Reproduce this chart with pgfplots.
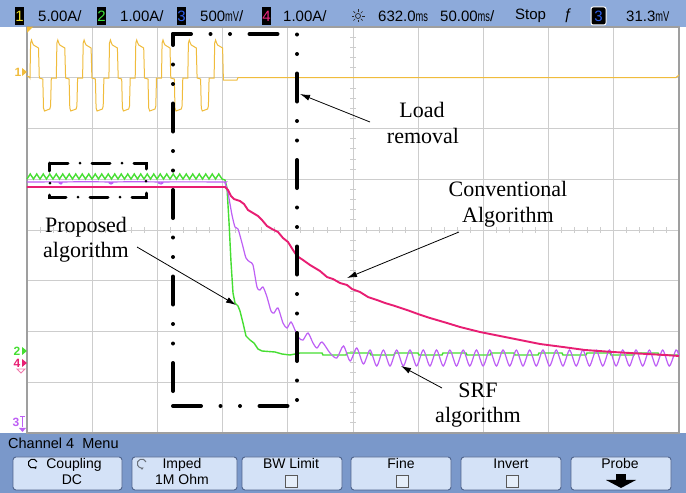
\documentclass[border=0pt]{standalone}
\usepackage{pgfplots}
\pgfplotsset{compat=1.18}
\usepackage{graphicx}
\usepackage{fontspec}
\setmainfont{Liberation Serif}
\newfontfamily\osc{Liberation Sans}
\usetikzlibrary{arrows.meta}
\definecolor{barblue}{RGB}{141,170,218}
\definecolor{menublue}{RGB}{122,152,202}
\definecolor{btnfill}{RGB}{212,226,247}
\definecolor{btnedge}{RGB}{80,100,140}
\definecolor{chone}{RGB}{240,188,60}
\definecolor{chtwo}{RGB}{70,222,50}
\definecolor{chthree}{RGB}{190,95,245}
\definecolor{chfour}{RGB}{232,30,115}
\definecolor{gridc}{RGB}{205,205,205}
\definecolor{dgone}{RGB}{235,220,40}
\definecolor{dgtwo}{RGB}{60,225,60}
\definecolor{dgthree}{RGB}{45,95,235}
\definecolor{dgfour}{RGB}{235,40,130}
\newcommand\stat{\osc\fontsize{15}{17}\selectfont}
\newcommand\un[1]{\scalebox{0.62}[0.95]{#1}}
\newcommand\ann{\fontsize{22}{26}\selectfont}
\begin{document}
\begin{tikzpicture}[x=1pt,y=1pt]
\useasboundingbox (0,0) rectangle (686,493);
\fill[white] (0,0) rectangle (686,493);
\fill[barblue] (0,466) rectangle (686,493);
\fill[menublue] (0,0) rectangle (686,60);
\begin{axis}[at={(27pt,60pt)},anchor=south west,width=652pt,height=406pt,scale only axis,
 xmin=27,xmax=679,ymin=27,ymax=433,y dir=reverse,
 xtick={92.2,157.4,222.6,287.8,353,418.2,483.4,548.6,613.8},
 ytick={77.75,128.5,179.25,230,280.75,331.5,382.25},
 xticklabels={},yticklabels={},major tick length=0pt,
 grid=major, grid style={gridc,line width=0.9pt},
 axis line style={gray!75,line width=1.2pt},
 clip=false]
% minor ticks on centre lines
\pgfplotsinvokeforeach{1,...,39}{\draw[gridc,line width=0.8pt] (axis cs:350,{27+10.15*#1}) -- (axis cs:356,{27+10.15*#1});}
\pgfplotsinvokeforeach{1,...,49}{\draw[gridc,line width=0.8pt] (axis cs:{27+13.04*#1},227) -- (axis cs:{27+13.04*#1},233);}
% channel 1
\addplot[chone, line width=1pt] coordinates {
(27,76)(29.5,77)
(30,78)(30.6,43)(31.5,40)(32.5,43)(33.5,45)(38.5,48)(39.3,78)(42.8,79)(43.5,108)(44.5,111)(49.8,109)(50.6,106)(51.3,78)
(56.3,78)(56.9,43)(57.8,40)(58.8,43)(59.8,45)(64.8,48)(65.6,78)(69.1,79)(69.8,108)(70.8,111)(76.1,109)(76.9,106)(77.6,78)
(82.6,78)(83.2,43)(84.1,40)(85.1,43)(86.1,45)(91.1,48)(91.9,78)(95.4,79)(96.1,108)(97.1,111)(102.4,109)(103.2,106)(103.9,78)
(108.9,78)(109.5,43)(110.4,40)(111.4,43)(112.4,45)(117.4,48)(118.2,78)(121.7,79)(122.4,108)(123.4,111)(128.7,109)(129.5,106)(130.2,78)
(135.2,78)(135.8,43)(136.7,40)(137.7,43)(138.7,45)(143.7,48)(144.5,78)(148,79)(148.7,108)(149.7,111)(155,109)(155.8,106)(156.5,78)
(161.5,78)(162.1,43)(163,40)(164,43)(165,45)(170,48)(170.8,78)(174.3,79)(175,108)(176,111)(181.3,109)(182.1,106)(182.8,78)
(187.8,78)(188.4,43)(189.3,40)(190.3,43)(191.3,45)(196.3,48)(197.1,78)(200.6,79)(201.3,108)(202.3,111)(207.6,109)(208.4,106)(209.1,78)
(214.1,78)(214.7,43)(215.6,40)(216.6,43)(217.6,45)(222.6,48)(223.4,80)(237,80)(238,77.5)(676,77.5)(679,75)
};
% channel 2 (proposed)
\addplot[chtwo, line width=1.4pt] coordinates {
(27,179)(30.25,174)(33.5,179)(36.75,174)(40,179)(43.25,174)(46.5,179)(49.75,174)(53,179)(56.25,174)(59.5,179)(62.75,174)(66,179)(69.25,174)(72.5,179)(75.75,174)(79,179)(82.25,174)(85.5,179)(88.75,174)(92,179)(95.25,174)(98.5,179)(101.75,174)(105,179)(108.25,174)(111.5,179)(114.75,174)(118,179)(121.25,174)(124.5,179)(127.75,174)(131,179)(134.25,174)(137.5,179)(140.75,174)(144,179)(147.25,174)(150.5,179)(153.75,174)(157,179)(160.25,174)(163.5,179)(166.75,174)(170,179)(173.25,174)(176.5,179)(179.75,174)(183,179)(186.25,174)(189.5,179)(192.75,174)(196,179)(199.25,174)(202.5,179)(205.75,174)(209,179)(212.25,174)(215.5,179)(218.75,174)(222,179)
(225,180)(227,188)(229,222)(231,262)(233,293)(235,303)(238,306)(240,311)(243,323)(246,336)(250,340)(254,343)(258,349)(262,351)(275,352)(282,354)(290,355)(300,353)
(322,353)(323,355)(346,355)(347,353)(370,353)(371,355)(394,355)(395,353)(418,353)(419,355)(442,355)(443,353)(466,353)(467,355)(490,355)(491,353)(514,353)(515,355)(538,355)(539,353)(562,353)(563,355)(586,355)(587,353)(610,353)(611,355)(634,355)(635,353)(658,353)(659,355)(679,355)
};
% channel 3 (SRF)
\addplot[chthree, line width=1.2pt, smooth, tension=0.45] coordinates {
(27,182)(60,182)(61,184)(62,182)(110,182)(111,184)(112,182)(160,182)(161,184)(162,182)(222,182)(225,183)(228,193)(232,215)(235,227)(238,229)(242,243)(246,258)(250,262)(253,265)(257,287)(260,290)(263,287)(267,297)(271,311)(274,313)(278,308)(283,323)(287,328)(291,322)(295,330)(299,338)(303,340)(308,333)(313,343)(317,348)(322,342)(330,353)
(336.8,358)(343.45,346)(350.1,361)(356.75,348)(363.4,364)(370.05,350)(376.7,366)(383.35,350)(390,366)(396.65,350)(403.3,366)(409.95,350)(416.6,366)(423.25,350)(429.9,366)(436.55,350)(443.2,366)(449.85,350)(456.5,366)(463.15,350)(469.8,366)(476.45,350)(483.1,366)(489.75,350)(496.4,366)(503.05,350)(509.7,366)(516.35,350)(523,366)(529.65,350)(536.3,366)(542.95,350)(549.6,366)(556.25,350)(562.9,366)(569.55,350)(576.2,366)(582.85,350)(589.5,366)(596.15,350)(602.8,366)(609.45,350)(616.1,366)(622.75,350)(629.4,366)(636.05,350)(642.7,366)(649.35,350)(656,366)(662.65,350)(669.3,366)(675.95,350)(679,356)
};
% channel 4 (conventional)
\addplot[chfour, line width=1.9pt] coordinates {
(27,187)(222,187)(225,187)(228,190)(231,196)(234,199)(240,201)(244,204)(248,210)(253,213)(258,216)(262,220)(267,226)(272,229)(278,232)(283,238)(288,242)(293,250)(297,256)(303,260)(310,265)(315,268)(320,271)(327,277)(333,279)(340,283)(347,285)(352,289)(360,292)(368,297)(377,300)(385,303)(395,306)(407,310)(418,314)(430,318)(447,323)(460,327)(480,332)(500,336)(520,340)(540,344)(563,347)(585,350)(613,352)(630,353)(647,354)(665,355)(679,356)
};
% dash-dot rectangles
\begin{scope}[line width=4pt,line cap=round,black]
\draw[dash pattern=on 28pt off 19.5pt on 0pt off 19.5pt on 0pt off 19.5pt,dash phase=10pt] (axis cs:173,34) -- (axis cs:297,34);
\draw[dash pattern=on 28pt off 19.5pt on 0pt off 19.5pt on 0pt off 19.5pt,dash phase=17pt] (axis cs:173,34) -- (axis cs:173,406);
\draw[dash pattern=on 28pt off 19.5pt on 0pt off 19.5pt on 0pt off 19.5pt,dash phase=47pt] (axis cs:297,34) -- (axis cs:297,406);
\draw[dash pattern=on 28pt off 19.5pt on 0pt off 19.5pt on 0pt off 19.5pt,dash phase=0pt] (axis cs:173,406) -- (axis cs:297,406);
\end{scope}
\begin{scope}[line width=3pt,line cap=round,black]
\draw[dash pattern=on 18pt off 12pt on 0pt off 12pt] (axis cs:50,163) -- (axis cs:146,163) -- (axis cs:146,197) -- (axis cs:50,197) -- cycle;
\end{scope}
% annotations
\draw[line width=0.8pt,-{Latex[length=10pt,width=6pt]}] (axis cs:370,122) -- (axis cs:300,94);
\draw[line width=0.8pt,-{Latex[length=10pt,width=6pt]}] (axis cs:459,232) -- (axis cs:347,278);
\draw[line width=0.8pt,-{Latex[length=10pt,width=6pt]}] (axis cs:137,247) -- (axis cs:236,305);
\draw[line width=0.8pt,-{Latex[length=10pt,width=6pt]}] (axis cs:442,388) -- (axis cs:401,366);
\node[anchor=base,inner sep=0pt,font=\ann] at (axis cs:422,117) {Load};
\node[anchor=base,inner sep=0pt,font=\ann] at (axis cs:423,143) {removal};
\node[anchor=base,inner sep=0pt,font=\ann] at (axis cs:508,196) {Conventional};
\node[anchor=base,inner sep=0pt,font=\ann] at (axis cs:508,222) {Algorithm};
\node[anchor=base,inner sep=0pt,font=\ann] at (axis cs:86,232) {Proposed};
\node[anchor=base,inner sep=0pt,font=\ann] at (axis cs:86,257) {algorithm};
\node[anchor=base,inner sep=0pt,font=\ann] at (axis cs:478,397) {SRF};
\node[anchor=base,inner sep=0pt,font=\ann] at (axis cs:478,422) {algorithm};
\end{axis}
% trigger marker top-left
\fill[chone] (27,466) -- (33,466) -- (27,460) -- cycle;
% left channel markers
\node[font=\osc\bfseries\fontsize{12}{12}\selectfont,text=chone,inner sep=0pt] at (18,421) {1};
\fill[chone] (22,425) -- (27,421) -- (22,417) -- cycle;
\node[font=\osc\bfseries\fontsize{12}{12}\selectfont,text=chtwo,inner sep=0pt] at (17,142) {2};
\fill[chtwo] (22,146) -- (27,142) -- (22,138) -- cycle;
\node[font=\osc\bfseries\fontsize{12}{12}\selectfont,text=chfour,inner sep=0pt] at (17,130) {4};
\fill[chfour] (22,134) -- (27,130) -- (22,126) -- cycle;
\draw[chfour!60,line width=0.8pt] (17,124) -- (25,124) -- (21,120) -- cycle;
\node[font=\osc\bfseries\fontsize{12}{12}\selectfont,text=chthree,inner sep=0pt] at (16,71) {3};
\draw[chthree,line width=1pt] (20,76) -- (25,76) (22.5,76) -- (22.5,66);
\fill[chthree] (19,65) -- (26,65) -- (22.5,61) -- cycle;
% status bar
\fill[black] (15,468) rectangle (24,486);
\node[font=\stat,text=dgone,inner sep=0pt] at (19.5,477) {1};
\node[font=\stat,anchor=west,inner sep=0pt] at (38,477) {5.00A/};
\fill[black] (97,468) rectangle (106,486);
\node[font=\stat,text=dgtwo,inner sep=0pt] at (101.5,477) {2};
\node[font=\stat,anchor=west,inner sep=0pt] at (120,477) {1.00A/};
\fill[black] (177,468) rectangle (186,486);
\node[font=\stat,text=dgthree,inner sep=0pt] at (181.5,477) {3};
\node[font=\stat,anchor=west,inner sep=0pt] at (200,477) {500\un{mV}/};
\fill[black] (262,468) rectangle (271,486);
\node[font=\stat,text=dgfour,inner sep=0pt] at (266.5,477) {4};
\node[font=\stat,anchor=west,inner sep=0pt] at (283,477) {1.00A/};
\begin{scope}[shift={(358,477)},line width=0.7pt,gray!30!black]
\draw (0,0) circle (2.5);
\foreach \a in {0,45,...,315} \draw (\a:4) -- (\a:6.5);
\end{scope}
\node[font=\stat,anchor=west,inner sep=0pt] at (378,477) {632.0\un{ms}};
\node[font=\stat,anchor=west,inner sep=0pt] at (440,477) {50.00\un{ms}/};
\node[font=\stat,anchor=west,inner sep=0pt] at (515,477) {Stop};
\node[font=\stat,anchor=west,inner sep=0pt] at (564,477) {ƒ};
\filldraw[fill=black,draw=white,line width=1pt,rounded corners=2pt] (591,468) rectangle (606,486);
\node[font=\stat,text=dgthree,inner sep=0pt] at (598.5,477) {3};
\node[font=\stat,anchor=west,inner sep=0pt] at (626,477) {31.3\un{mV}};
% menu
\node[font=\osc\fontsize{14.5}{16}\selectfont,anchor=base west,inner sep=0pt] at (8,44) {Channel 4\ \ Menu};
\begin{scope}[font=\osc\fontsize{14}{16}\selectfont]
\foreach \l/\r in {13/122,132/237,242/342,351/451,461/561,571/671}
  \filldraw[fill=btnfill,draw=btnedge,line width=0.9pt,rounded corners=3pt] (\l,3) rectangle (\r,36);
\node[anchor=base,inner sep=0pt] at (74,24) {Coupling};
\node[anchor=base,inner sep=0pt] at (72,8) {DC};
\node[anchor=base,inner sep=0pt] at (182,24) {Imped};
\node[anchor=base,inner sep=0pt] at (182,8) {1M Ohm};
\node[anchor=base,inner sep=0pt] at (291,24) {BW Limit};
\node[anchor=base,inner sep=0pt] at (401,24) {Fine};
\node[anchor=base,inner sep=0pt] at (511,24) {Invert};
\node[anchor=base,inner sep=0pt] at (620,24) {Probe};
\end{scope}
\foreach \c in {291,402,512} \filldraw[fill=btnfill!60!white,draw=gray!70!black,line width=0.8pt] (\c-6,6) rectangle (\c+6,18);
\fill[black] (616,13) rectangle (626,19);
\fill[black] (606,13) -- (636,13) -- (621,5) -- cycle;
\draw[line width=1pt,black,-{Latex[length=3pt]}] (37,31) arc (20:330:4.5);
\draw[line width=1pt,black!50!btnfill,-{Latex[length=3pt]}] (146,31) arc (20:300:4.5);
\end{tikzpicture}
\end{document}
